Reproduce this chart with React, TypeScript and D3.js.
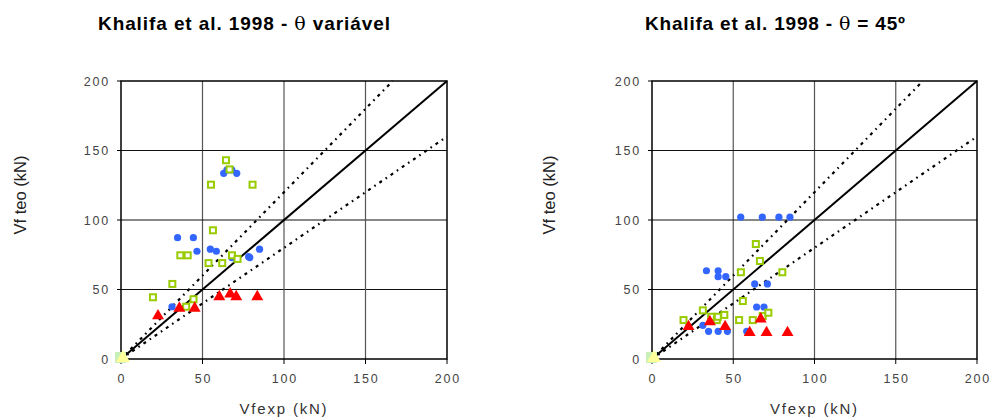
import React from "react";
import * as d3 from "d3";

// Vfexp / Vf teo pairs (kN) for the variable-angle model
const varBlueX = [31.3, 34.7, 44.4, 46.6, 54.8, 58.5, 63, 65, 68, 68, 71, 78.3, 79, 85];
const varBlueY = [37.6, 87.3, 87.3, 77.5, 79, 77.5, 133.6, 136, 136, 73, 133.6, 73.6, 73, 79];
const varGreenX = [19.6, 31.5, 36.4, 40, 40.9, 44.5, 53.7, 55.2, 56.4, 62.1, 64.4, 66.6, 68.1, 71.5, 80.7];
const varGreenY = [44.4, 54, 74.6, 37.6, 74.6, 43, 69, 125.4, 92.6, 69, 143, 136.4, 74.6, 72, 125.4];
const varRedX = [22.7, 35.8, 45.2, 60.3, 67, 70.7, 83.6];
const varRedY = [31, 36.5, 36.5, 44.8, 46.8, 44.8, 44.8];

// Vfexp / Vf teo pairs (kN) for theta = 45º
const fixBlueX = [31.3, 33.5, 34.8, 40.7, 40.7, 40.7, 45.4, 46.4, 54.6, 58.3, 63.2, 64.4, 67.9, 68.9, 71, 78.1, 84.9];
const fixBlueY = [24.2, 63.5, 19.9, 63.5, 59.2, 19.9, 59.2, 19.9, 102, 19.9, 54, 37.4, 102, 37.4, 54, 102, 102];
const fixGreenX = [19.4, 31.3, 36.4, 39.9, 40.5, 44.5, 53.6, 54.7, 55.9, 62, 63.9, 66.4, 68.1, 71.6, 80.2];
const fixGreenY = [28, 35, 30.4, 28, 30.4, 31.7, 28, 62.4, 41.7, 28, 82.7, 70.5, 30.9, 33.3, 62.4];
const fixRedX = [22.5, 35.6, 45, 60.1, 66.9, 70.5, 83.4];
const fixRedY = [23.3, 26.8, 23.3, 19, 28.8, 19, 19];

const ticks = [0, 50, 100, 150, 200];
const ratios = [1.2, 0.8];

const zip = (xs: number[], ys: number[]) => xs.map((x, i) => [x, ys[i]] as [number, number]);

type PanelProps = {
  left: number;
  right: number;
  titleX: number;
  titleLen: number;
  titleTail: string;
  yLabelX: number;
  blue: [number, number][];
  green: [number, number][];
  red: [number, number][];
};

function Panel(p: PanelProps) {
  const x = d3.scaleLinear().domain([0, 200]).range([p.left, p.right]);
  const y = d3.scaleLinear().domain([0, 200]).range([359, 81]);
  const line = d3.line<[number, number]>().x((d) => x(d[0])).y((d) => y(d[1]));
  const tri = d3.symbol().type(d3.symbolTriangle).size(62)() as string;
  const triBig = d3.symbol().type(d3.symbolTriangle).size(85)() as string;
  const tickFont = { fontFamily: "Liberation Sans, Arial, sans-serif", fontSize: 12.5, fill: "#444", letterSpacing: 1.8 };

  return (
    <g>
      <text
        x={p.titleX}
        y={30}
        textLength={p.titleLen}
        lengthAdjust="spacing"
        style={{ fontFamily: "Liberation Sans, Arial, sans-serif", fontSize: 19, fontWeight: "bold", fill: "#000" }}
      >
        Khalifa et al. 1998 - <tspan style={{ fontFamily: "DejaVu Serif, serif", fontWeight: "normal" }}>θ</tspan>
        {p.titleTail}
      </text>

      {/* grid */}
      {ticks.slice(1, 4).map((t) => (
        <g key={t}>
          <line x1={x(t)} x2={x(t)} y1={y(0)} y2={y(200)} stroke="#555" strokeWidth={1.2} />
          <line x1={x(0)} x2={x(200)} y1={y(t)} y2={y(t)} stroke="#111" strokeWidth={1.2} />
        </g>
      ))}
      <rect x={x(0)} y={y(200)} width={x(200) - x(0)} height={y(0) - y(200)} fill="none" stroke="#000" strokeWidth={1.5} />

      {/* ticks and labels */}
      {ticks.map((t) => (
        <g key={"t" + t}>
          <line x1={x(t)} x2={x(t)} y1={y(0)} y2={y(0) + 5} stroke="#000" />
          <line x1={x(0) - 4} x2={x(0)} y1={y(t)} y2={y(t)} stroke="#000" />
          <text x={x(t) + 1} y={383} textAnchor="middle" style={tickFont}>{t}</text>
          <text x={x(0) - 11} y={y(t) + 4.5} textAnchor="end" style={tickFont}>{t}</text>
        </g>
      ))}
      <text
        x={(x(0) + x(200)) / 2}
        y={414}
        textAnchor="middle"
        style={{ fontFamily: "Liberation Sans, Arial, sans-serif", fontSize: 15, fill: "#333", letterSpacing: 1.8 }}
      >
        Vfexp (kN)
      </text>
      <text
        transform={`translate(${p.yLabelX},195) rotate(-90)`}
        textAnchor="middle"
        style={{ fontFamily: "Liberation Sans, Arial, sans-serif", fontSize: 16.5, fill: "#222" }}
      >
        Vf teo (kN)
      </text>

      {/* reference lines */}
      <path d={line([[0, 0], [200, 200]]) as string} stroke="#000" strokeWidth={2} fill="none" />
      {ratios.map((r) => {
        const xe = Math.min(200, 200 / r);
        return (
          <path
            key={r}
            d={line([[0, 0], [xe, xe * r]]) as string}
            stroke="#000"
            strokeWidth={2.2}
            strokeDasharray="3 4.5 1.6 4.5"
            fill="none"
          />
        );
      })}

      {/* origin markers */}
      <rect x={x(0) - 6} y={y(0) - 7} width={11} height={11} fill="#c8f0b8" />
      <path d={triBig} transform={`translate(${x(0) + 2},${y(0) - 1})`} fill="#ffff99" />

      {/* data */}
      {p.blue.map((d, i) => (
        <circle key={"b" + i} cx={x(d[0])} cy={y(d[1])} r={3.6} fill="#3366ff" />
      ))}
      {p.green.map((d, i) => (
        <rect key={"g" + i} x={x(d[0]) - 3} y={y(d[1]) - 3} width={6} height={6} fill="#fff" stroke="#99cc00" strokeWidth={2} />
      ))}
      {p.red.map((d, i) => (
        <path key={"r" + i} d={tri} transform={`translate(${x(d[0])},${y(d[1])})`} fill="#ff0000" />
      ))}
    </g>
  );
}

export default function App() {
  return (
    <svg width={992} height={420} style={{ position: "absolute", left: 0, top: 0, background: "#fff" }}>
      <rect width={992} height={420} fill="#fff" />
      <Panel
        left={121}
        right={447}
        titleX={98}
        titleLen={292}
        titleTail=" variável"
        yLabelX={26}
        blue={zip(varBlueX, varBlueY)}
        green={zip(varGreenX, varGreenY)}
        red={zip(varRedX, varRedY)}
      />
      <Panel
        left={652}
        right={977}
        titleX={645}
        titleLen={260}
        titleTail=" = 45º"
        yLabelX={555}
        blue={zip(fixBlueX, fixBlueY)}
        green={zip(fixGreenX, fixGreenY)}
        red={zip(fixRedX, fixRedY)}
      />
    </svg>
  );
}
